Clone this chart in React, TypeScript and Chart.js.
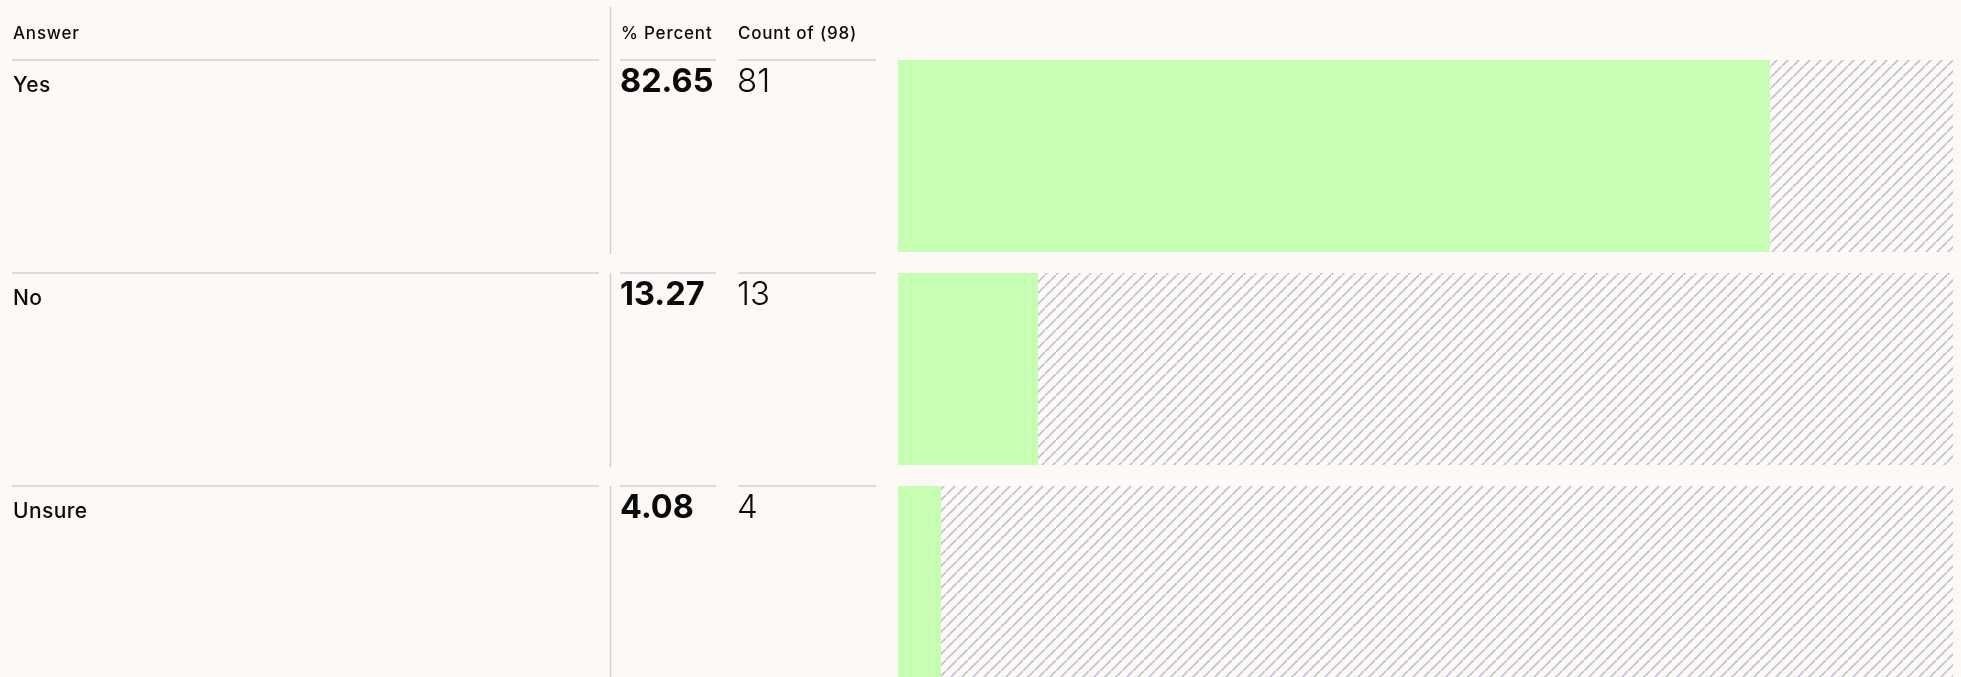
import React, { useEffect, useRef } from "react";
import { Chart, registerables } from "chart.js";

Chart.register(...registerables);

const categories = ["Yes", "No", "Unsure"];
const percents = [82.65, 13.27, 4.08];
const counts = [81, 13, 4];
const totalCount = 98;
const headerAnswer = "Answer";
const headerPercent = "% Percent";
const headerCount = `Count of (${totalCount})`;

const BG = "#fdf9f6";
const GREEN = "#c6ffb4";
const LINE = "#cfcfd9";
const HATCH = "#c2c4d1";
const FONT = "Inter, 'Noto Sans', sans-serif";

function makeHatch(): CanvasPattern | string {
  const s = 11;
  const c = document.createElement("canvas");
  c.width = s;
  c.height = s;
  const g = c.getContext("2d");
  if (!g) return HATCH;
  g.fillStyle = BG;
  g.fillRect(0, 0, s, s);
  g.strokeStyle = HATCH;
  g.lineWidth = 1.8;
  g.beginPath();
  g.moveTo(-1, s + 1);
  g.lineTo(s + 1, -1);
  g.moveTo(-1 - s, s + 1 - s);
  g.lineTo(s + 1 - s, -1 - s);
  g.moveTo(-1 + s, s + 1 + s);
  g.lineTo(s + 1 + s, -1 + s);
  g.stroke();
  const p = g.createPattern(c, "repeat");
  return p || HATCH;
}

const tablePlugin = {
  id: "tablePlugin",
  beforeDraw(chart: any) {
    const ctx = chart.ctx;
    ctx.save();
    ctx.fillStyle = BG;
    ctx.fillRect(0, 0, chart.width, chart.height);
    ctx.restore();
  },
  afterDraw(chart: any) {
    const ctx = chart.ctx as any;
    const meta = chart.getDatasetMeta(0);
    ctx.save();
    ctx.textBaseline = "alphabetic";
    ctx.textAlign = "left";
    ctx.fillStyle = "#0a0a0a";
    ctx.font = `500 17px ${FONT}`;
    ctx.letterSpacing = "0.8px";
    ctx.fillText(headerAnswer, 13, 39);
    ctx.fillText(headerPercent, 621, 39);
    ctx.fillText(headerCount, 738, 39);

    meta.data.forEach((bar: any, i: number) => {
      const top = bar.y - bar.height / 2;
      const bottom = bar.y + bar.height / 2;
      ctx.strokeStyle = LINE;
      ctx.lineWidth = 1.5;
      ctx.beginPath();
      ctx.moveTo(12, top);
      ctx.lineTo(599, top);
      ctx.moveTo(620, top);
      ctx.lineTo(716, top);
      ctx.moveTo(738, top);
      ctx.lineTo(876, top);
      ctx.stroke();
      ctx.beginPath();
      ctx.moveTo(610.5, i === 0 ? 7 : top);
      ctx.lineTo(610.5, bottom + 2);
      ctx.stroke();

      ctx.fillStyle = "#0a0a0a";
      ctx.font = `500 21px ${FONT}`;
      ctx.letterSpacing = "0.4px";
      ctx.fillText(categories[i], 13, top + 32);
      ctx.letterSpacing = "0px";
      ctx.font = `700 32.5px ${FONT}`;
      ctx.fillText(percents[i].toFixed(2), 620, top + 32);
      ctx.font = `300 33px ${FONT}`;
      ctx.fillText(String(counts[i]), 737, top + 32);
    });
    ctx.restore();
  },
};

export default function App() {
  const ref = useRef<HTMLCanvasElement | null>(null);
  useEffect(() => {
    document.body.style.margin = "0";
    document.body.style.background = BG;
    const canvas = ref.current;
    if (!canvas) return;
    const hatch = makeHatch();
    const chart = new Chart(canvas, {
      type: "bar",
      data: {
        labels: categories,
        datasets: [
          {
            label: "Percent",
            data: percents,
            backgroundColor: GREEN,
            borderWidth: 0,
            barPercentage: 192 / 213,
            categoryPercentage: 1,
          },
          {
            label: "Rest",
            data: percents.map((p) => 100 - p),
            backgroundColor: hatch as any,
            borderWidth: 0,
            barPercentage: 192 / 213,
            categoryPercentage: 1,
          },
        ],
      },
      options: {
        indexAxis: "y",
        responsive: false,
        animation: false,
        devicePixelRatio: 1,
        layout: { padding: { left: 898, right: 8, top: 49.5, bottom: 11.5 } },
        plugins: { legend: { display: false }, tooltip: { enabled: false } },
        scales: {
          x: { stacked: true, min: 0, max: 100, display: false },
          y: { stacked: true, display: false },
        },
      },
      plugins: [tablePlugin],
    });
    return () => chart.destroy();
  }, []);
  return (
    <div
      style={{
        position: "fixed",
        left: 0,
        top: 0,
        width: 1961,
        height: 677,
        overflow: "hidden",
        background: BG,
      }}
    >
      <canvas ref={ref} width={1961} height={700} style={{ display: "block" }} />
    </div>
  );
}
